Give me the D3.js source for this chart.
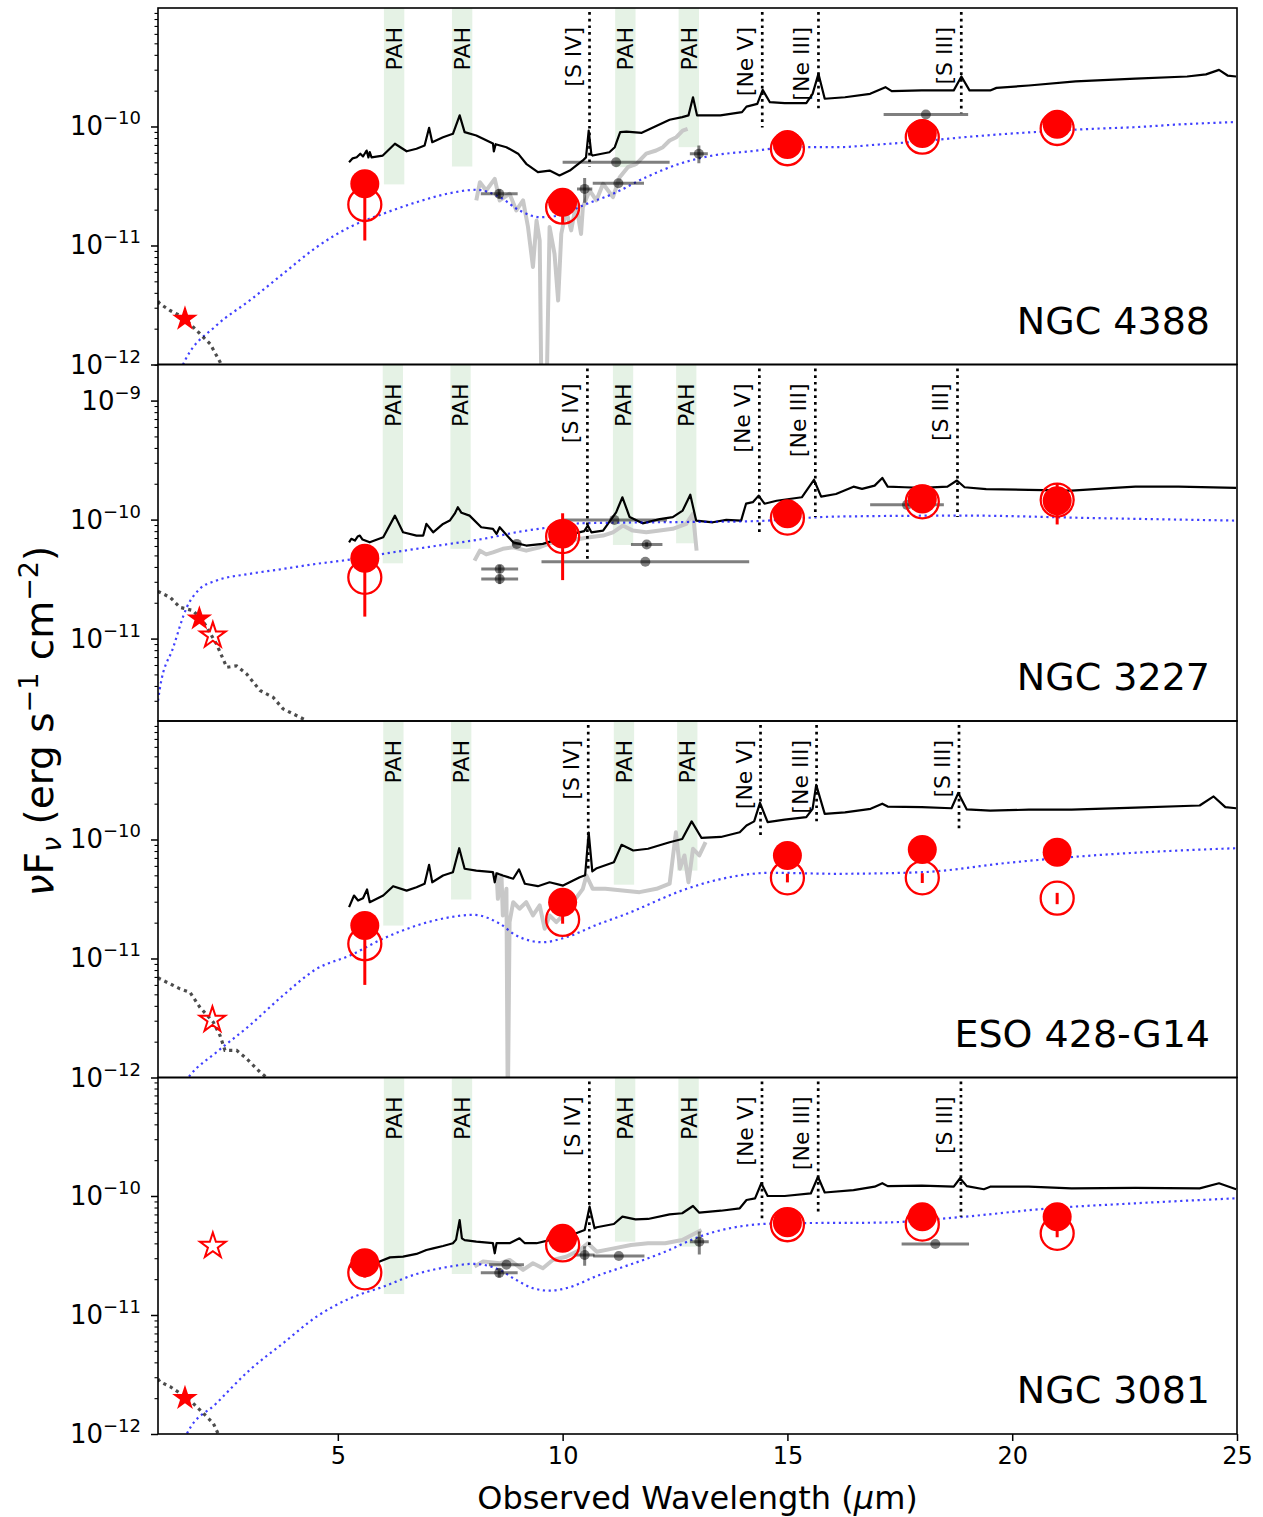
<!DOCTYPE html>
<html>
<head>
<meta charset="utf-8">
<script src="https://cdn.jsdelivr.net/npm/d3@7"></script>
<style>
body { margin: 0; background: #fff; }
text { font-family: "DejaVu Sans", sans-serif; fill: #000; }
</style>
</head>
<body>
<svg id="chart" width="1263" height="1517"></svg>
<script>
// fluxes below are in units of 1e-11 erg s^-1 cm^-2, wavelengths in micron
const U = 1e-11

const galaxies = ['NGC 4388', 'NGC 3227', 'ESO 428-G14', 'NGC 3081']
const redshifts = [0.0084, 0.0039, 0.0057, 0.0080]
const filterWave = [5.6, 10, 15, 18, 21]
const pahRest = [6.2, 7.7, 11.3, 12.7]
const pahHalf = 0.225
const lineRest = [10.51, 14.32, 15.56, 18.71]
const lineNames = ['[S IV]', '[Ne V]', '[Ne III]', '[S III]']
const xTicks = [5, 10, 15, 20, 25]
const yDomains = [[1e-12, 9.9e-10], [2.03e-12, 2.01e-9], [1e-12, 9.9e-10], [1e-12, 9.9e-10]]

// ---- NGC 4388
const spec4388 = [[5.25,5.0],[5.33,5.4],[5.42,5.52],[5.5,5.9],[5.56,5.6],[5.64,6.28],[5.68,5.5],[5.71,6.1],[5.75,5.5],[6.0,5.7],[6.27,7.16],[6.53,6.19],[6.75,6.5],[6.93,6.92],[7.03,9.75],[7.1,7.38],[7.34,8.13],[7.56,8.68],[7.71,12.4],[7.82,8.96],[8.08,8.4],[8.45,7.2],[8.47,6.17],[8.51,7.1],[8.75,6.7],[9.01,5.91],[9.19,4.86],[9.45,4.13],[9.71,4.26],[9.93,3.88],[10.16,4.26],[10.45,5.18],[10.52,5.5],[10.58,9.25],[10.64,5.8],[10.67,5.7],[11.04,6.08],[11.16,6.7],[11.28,8.96],[11.42,9.07],[11.76,8.85],[12.38,11.4],[12.66,12.0],[12.8,12.4],[12.9,17.6],[12.99,12.4],[13.51,12.4],[13.99,13.2],[14.09,14.7],[14.33,15.5],[14.45,20.3],[14.61,16.0],[14.94,15.7],[15.42,15.7],[15.56,18.8],[15.69,27.7],[15.83,17.1],[16.28,17.6],[16.84,18.8],[17.18,21.4],[17.32,19.8],[17.99,20.1],[18.7,20.1],[18.87,26.3],[19.05,20.1],[19.51,20.1],[19.65,21.1],[20.37,22.1],[21.41,23.9],[22.74,25.2],[23.89,26.3],[24.31,27.4],[24.6,29.9],[24.79,26.8],[24.98,26.3]]
const grey4388 = [[8.08,2.39],[8.16,3.4],[8.3,2.9],[8.49,3.63],[8.6,2.39],[8.82,2.72],[8.97,1.97],[9.12,2.39],[9.23,1.43],[9.34,0.66],[9.42,1.62],[9.49,1.1],[9.53,0.05],[9.64,0.05],[9.71,1.43],[9.82,0.85],[9.9,0.345],[9.97,1.25],[10.08,1.97],[10.19,1.34],[10.3,2.24],[10.41,1.25],[10.45,2.1],[10.6,2.9],[10.75,2.39],[10.9,3.3],[11.12,2.55],[11.27,3.75],[11.45,4.55],[11.64,4.86],[11.86,5.91],[12.08,6.28],[12.23,6.7],[12.38,7.63],[12.53,8.13],[12.67,9.25],[12.78,9.56]]
const model4388 = [[1.4,0.073],[1.6,0.108],[2.3,0.213],[3.04,0.345],[3.78,0.578],[4.53,0.97],[5.27,1.43],[6.01,1.85],[6.75,2.31],[7.49,2.75],[8.08,2.94],[8.6,2.55],[9.04,1.97],[9.49,1.73],[9.93,1.79],[10.45,2.17],[11.12,2.72],[11.86,3.75],[12.6,4.86],[13.34,5.7],[14.18,6.19],[15.13,6.7],[16.08,6.7],[17.04,7.06],[17.99,7.52],[18.94,8.13],[19.89,8.68],[20.84,9.13],[21.79,9.56],[22.74,9.87],[23.7,10.4],[24.98,10.9]]
const nir4388 = [[1.0,0.34],[1.04,0.324],[1.27,0.284],[1.56,0.25],[1.86,0.193],[2.16,0.149],[2.38,0.105],[2.5,0.08]]
const filled4388 = [3.3, 2.31, 7.06, 8.73, 10.45]
const open4388 = [2.21, 2.1, 6.5, 8.13, 9.62]
const openErr4388 = [1.11, 0.56, 0.3, 0.3, 0.3]
// [wavelength, half width, flux, flux error]
const phot4388 = [[8.59,0.41,2.72,0.25],[10.49,0.17,2.99,0.7],[11.19,1.19,5.01,0],[11.24,0.57,3.34,0],[13.03,0.2,5.91,1.0],[18.08,0.94,12.6,0]]
const pahBottom4388 = [3.26, 4.61, 4.55, 6.7]
const lineEnd4388 = [4.61, 9.8, 14.2, 12.9]

// ---- NGC 3227
const spec3227 = [[5.25,6.44],[5.3,6.9],[5.38,6.67],[5.44,7.2],[5.49,7.34],[5.55,6.8],[5.71,6.44],[6.01,7.1],[6.27,10.8],[6.45,7.82],[6.75,7.34],[6.9,7.34],[6.97,9.2],[7.12,7.82],[7.34,9.2],[7.49,9.81],[7.6,11.2],[7.67,12.7],[7.75,11.4],[7.93,10.8],[8.19,8.62],[8.45,8.36],[8.53,7.58],[8.6,8.62],[8.9,6.44],[9.19,6.05],[9.56,6.25],[9.93,6.92],[10.23,7.58],[10.48,8.0],[10.56,8.91],[10.64,7.82],[10.9,8.08],[11.19,11.5],[11.33,15.4],[11.49,10.5],[11.78,9.3],[12.16,10.1],[12.45,10.5],[12.67,11.9],[12.84,16.2],[12.97,9.81],[13.34,9.49],[13.64,9.94],[13.97,9.81],[14.08,13.6],[14.23,14.0],[14.36,15.9],[14.49,13.6],[14.76,14.4],[15.32,15.4],[15.59,21.6],[15.75,15.6],[16.08,16.4],[16.47,18.9],[16.66,18.1],[16.94,19.3],[17.11,22.4],[17.23,18.9],[17.61,18.7],[17.99,18.5],[18.56,18.9],[18.77,21.3],[18.94,18.7],[19.42,18.0],[20.37,17.8],[21.32,17.5],[22.27,18.5],[22.74,18.9],[23.7,18.9],[24.98,18.5]]
const grey3227 = [[8.04,4.52],[8.16,5.48],[8.3,5.1],[8.45,5.31],[8.67,5.68],[8.9,5.86],[9.19,5.48],[9.49,5.86],[9.78,6.44],[10.16,6.67],[10.6,7.1],[10.9,7.34],[11.12,7.82],[11.34,8.91],[11.56,8.08],[11.86,7.82],[12.16,8.08],[12.45,8.36],[12.75,9.2],[12.9,11.2],[12.98,5.48]]
const model3227 = [[1.0,0.3],[1.04,0.378],[1.34,0.845],[1.64,1.83],[1.93,2.62],[2.3,3.07],[3.04,3.5],[3.78,3.85],[4.53,4.25],[5.27,4.61],[6.01,5.15],[6.75,5.68],[7.49,6.25],[8.23,6.88],[8.97,7.82],[9.71,8.62],[10.38,9.3],[12.16,9.5],[14.18,9.68],[16.08,10.6],[18.94,10.8],[21.79,10.3],[24.98,9.81]]
const nir3227 = [[1.0,2.5],[1.04,2.45],[1.27,2.22],[1.49,1.83],[1.78,1.72],[2.04,1.33],[2.3,0.9],[2.53,0.574],[2.75,0.59],[2.97,0.505],[3.27,0.366],[3.56,0.321],[3.78,0.257],[4.3,0.205]]
const filled3227 = [4.73, 7.58, 11.2, 14.9, 14.4]
const open3227 = [3.27, 7.2, 10.3, 14.1, 14.6]
const openErr3227 = [1.74, 4.1, 0.3, 0.3, 5.5]
const phot3227 = [[8.6,0.41,3.85,0.3],[8.6,0.41,3.17,0.3],[8.98,0.1,6.25,0],[11.15,1.17,9.94,0],[11.87,0.35,6.17,0.3],[11.84,2.31,4.43,0],[17.66,0.82,13.3,0]]
const pahBottom3227 = [4.29, 5.68, 6.12, 6.32]
const lineEnd3227 = [4.37, 7.82, 10.5, 10.5]

// ---- ESO 428-G14
const spec428 = [[5.25,2.7],[5.36,3.38],[5.45,3.07],[5.56,3.21],[5.65,3.8],[5.71,2.97],[6.01,3.38],[6.23,4.05],[6.53,3.72],[6.75,3.97],[6.93,4.25],[7.03,6.12],[7.1,4.37],[7.34,4.98],[7.56,5.31],[7.7,8.45],[7.82,5.68],[8.08,5.48],[8.45,5.31],[8.49,4.37],[8.53,5.2],[8.67,4.98],[8.9,4.68],[9.03,5.6],[9.16,4.25],[9.45,4.05],[9.71,4.37],[10.01,4.1],[10.38,4.82],[10.5,5.0],[10.58,11.4],[10.66,5.4],[10.76,5.74],[11.14,6.44],[11.31,9.02],[11.57,8.08],[11.9,8.36],[12.38,9.49],[12.66,10.1],[12.87,14.2],[13.09,10.3],[13.52,10.5],[13.94,11.5],[14.09,13.1],[14.26,14.2],[14.39,20.3],[14.56,14.0],[14.94,14.7],[15.42,15.4],[15.56,18.1],[15.64,28.8],[15.83,16.4],[16.28,16.9],[16.85,18.1],[17.11,20.0],[17.23,18.9],[17.99,18.7],[18.65,18.3],[18.8,24.6],[18.99,17.9],[19.51,17.5],[20.37,17.8],[21.32,17.8],[22.74,18.5],[24.17,19.3],[24.48,23.0],[24.74,18.7],[24.98,18.3]]
const grey428 = [[8.53,5.31],[8.56,3.17],[8.64,4.98],[8.67,2.3],[8.75,3.85],[8.78,0.05],[8.82,2.02],[8.9,2.97],[9.04,2.62],[9.19,2.97],[9.34,2.3],[9.49,2.79],[9.6,1.78],[9.71,2.3],[9.86,2.02],[10.08,2.45],[10.23,2.97],[10.45,3.85],[10.53,4.98],[10.67,3.85],[10.95,3.85],[11.33,3.72],[11.71,3.61],[12.09,3.85],[12.38,4.25],[12.52,11.5],[12.61,5.68],[12.71,7.34],[12.8,4.37],[12.9,8.36],[13.04,7.34],[13.18,9.49]]
const model428 = [[1.4,0.07],[1.71,0.104],[2.3,0.163],[3.04,0.274],[3.78,0.489],[4.53,0.819],[5.27,1.06],[6.01,1.47],[6.75,1.89],[7.49,2.22],[8.01,2.33],[8.6,1.96],[8.97,1.56],[9.56,1.37],[10.08,1.51],[10.82,1.96],[11.33,2.3],[12.76,3.85],[13.23,4.37],[14.66,5.25],[16.08,5.15],[17.99,5.31],[19.89,6.36],[21.79,7.34],[24.98,8.45]]
const nir428 = [[1.0,0.69],[1.04,0.675],[1.27,0.612],[1.49,0.556],[1.71,0.521],[1.93,0.39],[2.23,0.292],[2.38,0.225],[2.49,0.169],[2.75,0.169],[2.97,0.144],[3.27,0.111],[3.42,0.1],[3.7,0.085]]
const filled428 = [1.89, 2.97, 7.34, 8.24, 7.82]
const open428 = [1.33, 2.13, 4.76, 4.76, 3.21]
const openErr428 = [0.73, 0.17, 0.4, 0.45, 0.35]
const phot428 = []
const pahBottom428 = [1.89, 3.13, 4.17, 5.48]
const lineEnd428 = [5.68, 10.1, 14.2, 12.45]

// ---- NGC 3081
const spec3081 = [[5.27,2.55],[5.6,2.69],[5.93,2.81],[6.16,3.05],[6.45,3.09],[6.75,3.26],[6.97,3.52],[7.12,3.63],[7.34,3.8],[7.56,4.01],[7.63,4.3],[7.71,6.28],[7.76,4.4],[7.82,4.26],[8.08,4.13],[8.45,4.01],[8.49,3.3],[8.53,4.01],[8.82,4.01],[9.04,4.41],[9.16,4.01],[9.42,4.01],[9.71,4.26],[10.3,4.86],[10.49,5.18],[10.6,8.13],[10.71,5.35],[10.76,5.46],[11.14,5.82],[11.33,6.7],[11.62,6.36],[11.9,6.41],[12.38,7.01],[12.66,7.16],[12.9,8.24],[13.04,7.24],[13.52,7.52],[13.94,7.88],[14.09,9.25],[14.28,9.56],[14.42,12.8],[14.56,10.0],[14.94,10.0],[15.52,10.5],[15.68,14.5],[15.83,10.7],[16.47,11.2],[16.94,11.97],[17.11,12.8],[17.23,12.1],[17.99,12.2],[18.7,11.97],[18.84,14.1],[18.99,12.1],[19.37,11.4],[19.51,11.97],[20.37,11.97],[21.32,11.6],[22.74,11.7],[24.17,11.6],[24.6,12.8],[24.98,11.4]]
const grey3081 = [[8.04,2.55],[8.23,2.81],[8.6,2.72],[8.82,2.9],[9.12,2.39],[9.34,2.72],[9.56,2.47],[9.78,2.9],[10.08,3.09],[10.38,3.52],[10.56,4.01],[10.76,3.4],[11.14,3.63],[11.52,3.88],[11.9,4.01],[12.28,4.01],[12.66,4.26],[12.95,4.86],[13.09,5.18]]
const model3081 = [[1.4,0.06],[1.64,0.1],[2.3,0.181],[3.04,0.345],[3.78,0.578],[4.53,0.97],[5.27,1.38],[6.01,1.73],[6.75,2.21],[7.49,2.55],[8.01,2.69],[8.6,2.39],[8.97,1.97],[9.34,1.68],[9.71,1.6],[10.08,1.68],[10.82,2.17],[11.33,2.52],[12.28,3.4],[13.04,4.55],[14.47,5.82],[15.13,5.91],[17.04,5.97],[18.94,6.7],[20.84,7.88],[22.74,8.68],[24.98,9.56]]
const nir3081 = [[1.0,0.29],[1.04,0.275],[1.27,0.25],[1.49,0.22],[1.78,0.181],[2.01,0.149],[2.23,0.123],[2.34,0.1],[2.47,0.08]]
const filled3081 = [2.75, 4.41, 5.97, 6.7, 6.7]
const open3081 = [2.26, 3.88, 5.73, 5.8, 4.86]
const openErr3081 = [0.2, 0.2, 0.3, 0.3, 0.35]
const phot3081 = [[8.59,0.41,2.26,0.2],[8.75,0.39,2.64,0],[10.49,0.22,3.19,0.6],[11.25,0.57,3.13,0],[13.04,0.21,4.13,0.9],[18.29,0.75,3.95,0]]
const pahBottom3081 = [1.5, 2.21, 4.13, 3.75]
const lineEnd3081 = [3.88, 6.08, 7.16, 6.7]

// K-band stars [wavelength, flux]
const starFilled = [[1.6, 0.242], [1.92, 1.47], null, [1.6, 0.2]]
const starOpen = [null, [2.22, 1.06], [2.21, 0.305], [2.22, 3.8]]

const panels = [
    { spec: spec4388, grey: grey4388, model: model4388, nir: nir4388, filled: filled4388, open: open4388, openErr: openErr4388, phot: phot4388, pahBottom: pahBottom4388, lineEnd: lineEnd4388 },
    { spec: spec3227, grey: grey3227, model: model3227, nir: nir3227, filled: filled3227, open: open3227, openErr: openErr3227, phot: phot3227, pahBottom: pahBottom3227, lineEnd: lineEnd3227 },
    { spec: spec428, grey: grey428, model: model428, nir: nir428, filled: filled428, open: open428, openErr: openErr428, phot: phot428, pahBottom: pahBottom428, lineEnd: lineEnd428 },
    { spec: spec3081, grey: grey3081, model: model3081, nir: nir3081, filled: filled3081, open: open3081, openErr: openErr3081, phot: phot3081, pahBottom: pahBottom3081, lineEnd: lineEnd3081 },
]

const left = 158, right = 1237, top0 = 8, panelH = 356.5
const svg = d3.select('#chart')
svg.append('rect').attr('width', 1263).attr('height', 1517).attr('fill', '#fff')

const x = d3.scaleLinear().domain([1, 25]).range([left, right])
const defs = svg.append('defs')

panels.forEach((p, i) => {
    const z = redshifts[i]
    const top = top0 + i * panelH
    const bottom = top + panelH
    const y = d3.scaleLog().domain(yDomains[i]).range([bottom, top])
    const fy = (v) => y(v * U)
    const path = d3.line().x(d => x(d[0])).y(d => fy(d[1]))

    defs.append('clipPath').attr('id', 'clip' + i)
        .append('rect').attr('x', left).attr('y', top).attr('width', right - left).attr('height', panelH)

    const g = svg.append('g')
    const plot = g.append('g').attr('clip-path', `url(#clip${i})`)

    // PAH bands
    plot.selectAll('rect.pah')
        .data(pahRest)
        .enter()
        .append('rect')
        .attr('x', d => x((d - pahHalf) * (1 + z)))
        .attr('width', d => x((d + pahHalf) * (1 + z)) - x((d - pahHalf) * (1 + z)))
        .attr('y', top)
        .attr('height', (d, k) => fy(p.pahBottom[k]) - top)
        .attr('fill', 'rgba(0,128,0,0.1)')

    // spectra
    plot.append('path').datum(p.grey).attr('d', path)
        .attr('fill', 'none').attr('stroke', '#c8c8c8').attr('stroke-width', 4).attr('stroke-linejoin', 'round')
    plot.append('path').datum(p.spec).attr('d', path)
        .attr('fill', 'none').attr('stroke', '#000').attr('stroke-width', 2.2).attr('stroke-linejoin', 'round')
    plot.append('path').datum(p.model).attr('d', path.curve(d3.curveMonotoneX))
        .attr('fill', 'none').attr('stroke', 'rgba(0,0,255,0.75)').attr('stroke-width', 2.2).attr('stroke-dasharray', '2.2,3.6')
    path.curve(d3.curveLinear)
    plot.append('path').datum(p.nir).attr('d', path)
        .attr('fill', 'none').attr('stroke', 'rgba(0,0,0,0.7)').attr('stroke-width', 3.2).attr('stroke-dasharray', '3.2,4')

    // emission line markers
    plot.selectAll('line.em')
        .data(lineRest)
        .enter()
        .append('line')
        .attr('x1', d => x(d * (1 + z))).attr('x2', d => x(d * (1 + z)))
        .attr('y1', top + 4).attr('y2', (d, k) => fy(p.lineEnd[k]))
        .attr('stroke', '#000').attr('stroke-width', 2.7).attr('stroke-dasharray', '2.7,4')

    g.selectAll('text.pah')
        .data(pahRest)
        .enter()
        .append('text')
        .attr('transform', d => `translate(${x(d * (1 + z))},${top + 19}) rotate(-90)`)
        .attr('text-anchor', 'end')
        .attr('dy', '0.36em')
        .style('font-size', '22px')
        .text('PAH')
    g.selectAll('text.em')
        .data(lineRest)
        .enter()
        .append('text')
        .attr('transform', d => `translate(${x(d * (1 + z)) - 9},${top + 19}) rotate(-90)`)
        .attr('text-anchor', 'end')
        .style('font-size', '22px')
        .text((d, k) => lineNames[k])

    // archival photometry
    const ph = plot.selectAll('g.phot').data(p.phot).enter().append('g')
    ph.append('line')
        .attr('x1', d => x(d[0] - d[1])).attr('x2', d => x(d[0] + d[1]))
        .attr('y1', d => fy(d[2])).attr('y2', d => fy(d[2]))
        .attr('stroke', 'rgba(0,0,0,0.5)').attr('stroke-width', 3)
    ph.filter(d => d[3] > 0).append('line')
        .attr('x1', d => x(d[0])).attr('x2', d => x(d[0]))
        .attr('y1', d => fy(d[2] - d[3])).attr('y2', d => fy(d[2] + d[3]))
        .attr('stroke', 'rgba(0,0,0,0.5)').attr('stroke-width', 3)
    ph.append('circle')
        .attr('cx', d => x(d[0])).attr('cy', d => fy(d[2])).attr('r', 5)
        .attr('fill', 'rgba(0,0,0,0.5)')

    // MIRI points
    plot.selectAll('line.err')
        .data(filterWave)
        .enter()
        .append('line')
        .attr('x1', d => x(d)).attr('x2', d => x(d))
        .attr('y1', (d, k) => fy(Math.max(p.open[k] - p.openErr[k], 0.01)))
        .attr('y2', (d, k) => fy(p.open[k] + p.openErr[k]))
        .attr('stroke', 'red').attr('stroke-width', 3)
    plot.selectAll('circle.open')
        .data(filterWave)
        .enter()
        .append('circle')
        .attr('cx', d => x(d)).attr('cy', (d, k) => fy(p.open[k])).attr('r', 16.5)
        .attr('fill', 'none').attr('stroke', 'red').attr('stroke-width', 2.3)
    plot.selectAll('circle.filled')
        .data(filterWave)
        .enter()
        .append('circle')
        .attr('cx', d => x(d)).attr('cy', (d, k) => fy(p.filled[k])).attr('r', 14.5)
        .attr('fill', 'red')

    // stars
    const R = 13.5
    const star = d3.symbol().type(d3.symbolStar).size(R * R / 0.8908130915292852)
    if (starFilled[i]) {
        plot.append('path').attr('d', star)
            .attr('transform', `translate(${x(starFilled[i][0])},${fy(starFilled[i][1])})`)
            .attr('fill', 'red')
    }
    if (starOpen[i]) {
        plot.append('path').attr('d', star)
            .attr('transform', `translate(${x(starOpen[i][0])},${fy(starOpen[i][1])})`)
            .attr('fill', 'none').attr('stroke', 'red').attr('stroke-width', 2)
    }

    // y axis ticks
    const [lo, hi] = yDomains[i]
    const majors = [], minors = []
    for (let e = -13; e <= -8; e++) {
        for (let m = 1; m < 10; m++) {
            const v = m * Math.pow(10, e)
            if (v >= lo * 0.999 && v <= hi * 1.001) (m === 1 ? majors : minors).push(v)
        }
    }
    const ax1 = g.append('g').attr('transform', `translate(${left},0)`)
        .call(d3.axisLeft(y).tickValues(majors).tickSize(7).tickFormat(''))
    const ax2 = g.append('g').attr('transform', `translate(${left},0)`)
        .call(d3.axisLeft(y).tickValues(minors).tickSize(3.5).tickFormat(''))
    ax1.select('.domain').remove()
    ax2.select('.domain').remove()
    ax1.selectAll('line').attr('stroke-width', 1.5)
    ax2.selectAll('line').attr('stroke-width', 1.1)

    g.selectAll('text.ylab')
        .data(majors)
        .enter()
        .append('text')
        .attr('x', 141)
        .attr('y', d => y(d) + 9)
        .attr('text-anchor', 'end')
        .style('font-size', '26px')
        .each(function (d) {
            const t = d3.select(this)
            t.append('tspan').text('10')
            t.append('tspan').attr('dy', -11).style('font-size', '18px').text('\u2212' + Math.abs(Math.round(Math.log10(d))))
        })

    // name
    g.append('text')
        .attr('x', 1210).attr('y', bottom - 31)
        .attr('text-anchor', 'end')
        .style('font-size', '38px')
        .text(galaxies[i])

    // frame
    g.append('rect')
        .attr('x', left).attr('y', top).attr('width', right - left).attr('height', panelH)
        .attr('fill', 'none').attr('stroke', '#000').attr('stroke-width', 1.6)

    if (i === panels.length - 1) {
        const ax = g.append('g').attr('transform', `translate(0,${bottom})`)
            .call(d3.axisBottom(x).tickValues(xTicks).tickSize(7).tickPadding(6))
        ax.select('.domain').remove()
        ax.selectAll('line').attr('stroke-width', 1.5)
        ax.selectAll('text').style('font-size', '24px').attr('font-family', 'DejaVu Sans')
    }
})

// axis titles
const xl = svg.append('text')
    .attr('x', (left + right) / 2).attr('y', 1509)
    .attr('text-anchor', 'middle')
    .style('font-size', '32px')
xl.append('tspan').text('Observed Wavelength (')
xl.append('tspan').style('font-style', 'italic').text('\u03bc')
xl.append('tspan').text('m)')

const yl = svg.append('text')
    .attr('transform', `translate(53,${(top0 + top0 + 4 * panelH) / 2}) rotate(-90)`)
    .attr('text-anchor', 'middle')
    .style('font-size', '39px')
yl.append('tspan').style('font-style', 'italic').text('\u03bd')
yl.append('tspan').text('F')
yl.append('tspan').attr('dy', 8).style('font-size', '27px').style('font-style', 'italic').text('\u03bd')
yl.append('tspan').attr('dy', -8).text(' (erg s')
yl.append('tspan').attr('dy', -15).style('font-size', '27px').text('\u22121')
yl.append('tspan').attr('dy', 15).text(' cm')
yl.append('tspan').attr('dy', -15).style('font-size', '27px').text('\u22122')
yl.append('tspan').attr('dy', 15).text(')')
</script>
</body>
</html>
